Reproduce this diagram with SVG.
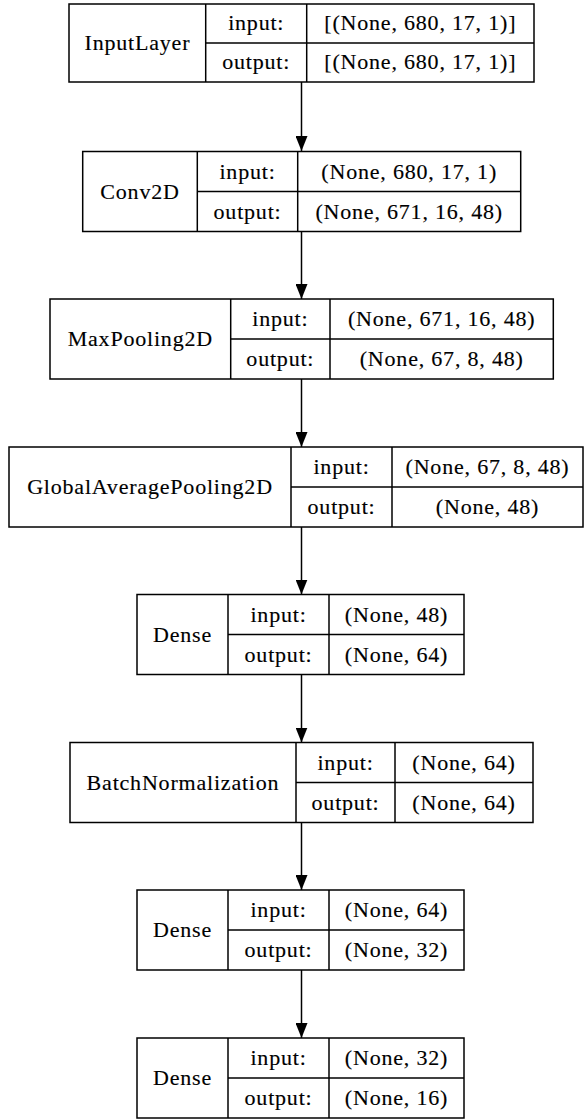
<svg xmlns="http://www.w3.org/2000/svg" width="584" height="1120" viewBox="0 0 584 1120">
<defs>
<style>
.box{fill:#fff;stroke:#000;stroke-width:1.5}
.b{fill:none;stroke:#000;stroke-width:1.5}
text{font-family:"Liberation Serif","Times New Roman",serif;font-size:22px;letter-spacing:0.8px;text-anchor:middle;fill:#000;stroke:#000;stroke-width:0.15px}
.edge{stroke:#000;stroke-width:1.5;fill:none}
</style>
<marker id="ah" markerUnits="userSpaceOnUse" markerWidth="16" markerHeight="12" refX="15" refY="6" orient="auto" viewBox="0 0 16 12">
<path d="M0,0 L15,6 L0,12 Z" fill="#000"/>
</marker>
</defs>
<rect x="0" y="0" width="584" height="1120" fill="#fff"/>
<g id="connectors">
<line class="edge" x1="301.5" y1="82" x2="301.5" y2="151" marker-end="url(#ah)"/>
<line class="edge" x1="301.5" y1="231.5" x2="301.5" y2="299" marker-end="url(#ah)"/>
<line class="edge" x1="301.5" y1="379" x2="301.5" y2="447" marker-end="url(#ah)"/>
<line class="edge" x1="301.5" y1="527" x2="301.5" y2="594.5" marker-end="url(#ah)"/>
<line class="edge" x1="301.5" y1="674.5" x2="301.5" y2="742.5" marker-end="url(#ah)"/>
<line class="edge" x1="301.5" y1="822.5" x2="301.5" y2="890" marker-end="url(#ah)"/>
<line class="edge" x1="301.5" y1="970" x2="301.5" y2="1038" marker-end="url(#ah)"/>
</g>
<g id="n1">
<rect class="box" x="69" y="4" width="465" height="78"/>
<line class="b" x1="205.7" y1="4" x2="205.7" y2="82"/>
<line class="b" x1="306.7" y1="4" x2="306.7" y2="82"/>
<line class="b" x1="205.7" y1="43" x2="534" y2="43"/>
<text x="137.4" y="50">InputLayer</text>
<text x="256.2" y="30">input:</text>
<text x="256.2" y="69">output:</text>
<text x="420.3" y="30">[(None, 680, 17, 1)]</text>
<text x="420.3" y="69">[(None, 680, 17, 1)]</text>
</g>
<g id="n2">
<rect class="box" x="82.7" y="151.5" width="438" height="80"/>
<line class="b" x1="197.3" y1="151.5" x2="197.3" y2="231.5"/>
<line class="b" x1="297.7" y1="151.5" x2="297.7" y2="231.5"/>
<line class="b" x1="197.3" y1="191.5" x2="520.7" y2="191.5"/>
<text x="140" y="198.5">Conv2D</text>
<text x="247.5" y="178.5">input:</text>
<text x="247.5" y="218.5">output:</text>
<text x="409.2" y="178.5">(None, 680, 17, 1)</text>
<text x="409.2" y="218.5">(None, 671, 16, 48)</text>
</g>
<g id="n3">
<rect class="box" x="50" y="299" width="503.3" height="80"/>
<line class="b" x1="230.7" y1="299" x2="230.7" y2="379"/>
<line class="b" x1="330" y1="299" x2="330" y2="379"/>
<line class="b" x1="230.7" y1="339" x2="553.3" y2="339"/>
<text x="140.3" y="346">MaxPooling2D</text>
<text x="280.3" y="326">input:</text>
<text x="280.3" y="366">output:</text>
<text x="441.7" y="326">(None, 671, 16, 48)</text>
<text x="441.7" y="366">(None, 67, 8, 48)</text>
</g>
<g id="n4">
<rect class="box" x="9" y="447" width="574" height="80"/>
<line class="b" x1="291" y1="447" x2="291" y2="527"/>
<line class="b" x1="392" y1="447" x2="392" y2="527"/>
<line class="b" x1="291" y1="487" x2="583" y2="487"/>
<text x="150" y="494">GlobalAveragePooling2D</text>
<text x="341.5" y="474">input:</text>
<text x="341.5" y="514">output:</text>
<text x="487.5" y="474">(None, 67, 8, 48)</text>
<text x="487.5" y="514">(None, 48)</text>
</g>
<g id="n5">
<rect class="box" x="137" y="594.5" width="327" height="80"/>
<line class="b" x1="228" y1="594.5" x2="228" y2="674.5"/>
<line class="b" x1="329" y1="594.5" x2="329" y2="674.5"/>
<line class="b" x1="228" y1="634.5" x2="464" y2="634.5"/>
<text x="182.5" y="641.5">Dense</text>
<text x="278.5" y="621.5">input:</text>
<text x="278.5" y="661.5">output:</text>
<text x="396.5" y="621.5">(None, 48)</text>
<text x="396.5" y="661.5">(None, 64)</text>
</g>
<g id="n6">
<rect class="box" x="70" y="742.5" width="463" height="80"/>
<line class="b" x1="296" y1="742.5" x2="296" y2="822.5"/>
<line class="b" x1="395" y1="742.5" x2="395" y2="822.5"/>
<line class="b" x1="296" y1="782.5" x2="533" y2="782.5"/>
<text x="183" y="789.5">BatchNormalization</text>
<text x="345.5" y="769.5">input:</text>
<text x="345.5" y="809.5">output:</text>
<text x="464" y="769.5">(None, 64)</text>
<text x="464" y="809.5">(None, 64)</text>
</g>
<g id="n7">
<rect class="box" x="137" y="890" width="327" height="80"/>
<line class="b" x1="228" y1="890" x2="228" y2="970"/>
<line class="b" x1="329" y1="890" x2="329" y2="970"/>
<line class="b" x1="228" y1="930" x2="464" y2="930"/>
<text x="182.5" y="937">Dense</text>
<text x="278.5" y="917">input:</text>
<text x="278.5" y="957">output:</text>
<text x="396.5" y="917">(None, 64)</text>
<text x="396.5" y="957">(None, 32)</text>
</g>
<g id="n8">
<rect class="box" x="137" y="1038" width="327" height="80"/>
<line class="b" x1="228" y1="1038" x2="228" y2="1118"/>
<line class="b" x1="329" y1="1038" x2="329" y2="1118"/>
<line class="b" x1="228" y1="1078" x2="464" y2="1078"/>
<text x="182.5" y="1085">Dense</text>
<text x="278.5" y="1065">input:</text>
<text x="278.5" y="1105">output:</text>
<text x="396.5" y="1065">(None, 32)</text>
<text x="396.5" y="1105">(None, 16)</text>
</g>
</svg>
